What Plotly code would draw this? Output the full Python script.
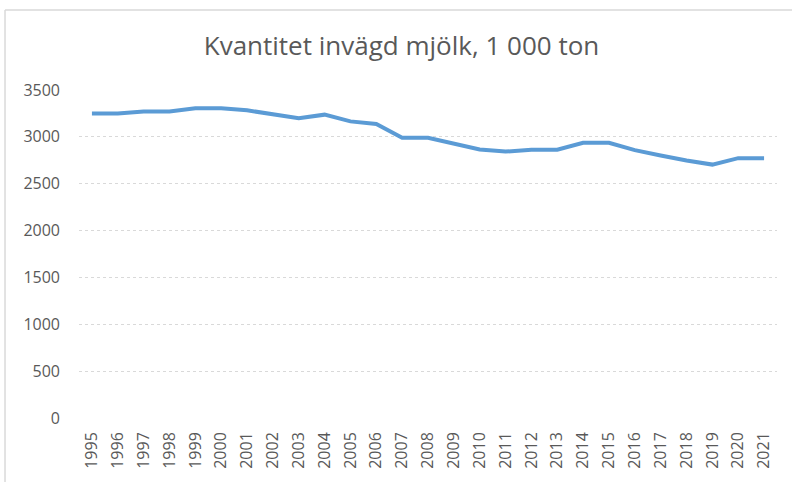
import plotly.graph_objects as go

years = [str(y) for y in range(1995, 2022)]
milk = [3250, 3250, 3270, 3270, 3304, 3304, 3283, 3237, 3200, 3237, 3165, 3137,
        2990, 2990, 2930, 2865, 2843, 2862, 2862, 2937, 2937, 2858, 2801, 2747,
        2704, 2773, 2773]
y_ticks = [0, 500, 1000, 1500, 2000, 2500, 3000, 3500]

FONT = "Open Sans, Noto Sans, sans-serif"

fig = go.Figure()
fig.add_trace(go.Scatter(x=years, y=milk, mode="lines",
                         line=dict(color="#5B9BD5", width=4),
                         hoverinfo="x+y"))

fig.update_layout(
    width=792, height=482,
    paper_bgcolor="white", plot_bgcolor="white",
    margin=dict(l=79, r=15, t=90, b=64, autoexpand=False),
    showlegend=False,
    title=dict(text="Kvantitet invägd mjölk, 1 000 ton", x=401.5 / 792, xanchor="center",
               y=1 - 46 / 482, yanchor="middle",
               font=dict(family=FONT, size=26, color="#595959")),
    xaxis=dict(type="category", range=[-0.5, len(years) - 0.5], tickangle=-90,
               showgrid=False, showline=False, automargin=False,
               ticks="", tickfont=dict(family=FONT, size=16, color="#595959"),
               ticklabelstandoff=10),
    yaxis=dict(range=[0, 3500], tickvals=y_ticks, showgrid=True, automargin=False,
               gridcolor="#d9d9d9", griddash="dot", gridwidth=1,
               zeroline=False, showline=False, ticks="",
               tickfont=dict(family=FONT, size=16, color="#595959"),
               ticklabelstandoff=18),
    shapes=[
        dict(type="line", xref="paper", yref="paper", x0=-0.106, x1=1.03, y0=1.244, y1=1.244,
             line=dict(color="#d9d9d9", width=1.5)),
        dict(type="line", xref="paper", yref="paper", x0=-0.106, x1=-0.106, y0=1.244, y1=-0.2,
             line=dict(color="#d9d9d9", width=1.5)),
    ],
)

fig.write_html("out.html", config={"displayModeBar": False},
               post_script="document.body.style.margin='0';")
